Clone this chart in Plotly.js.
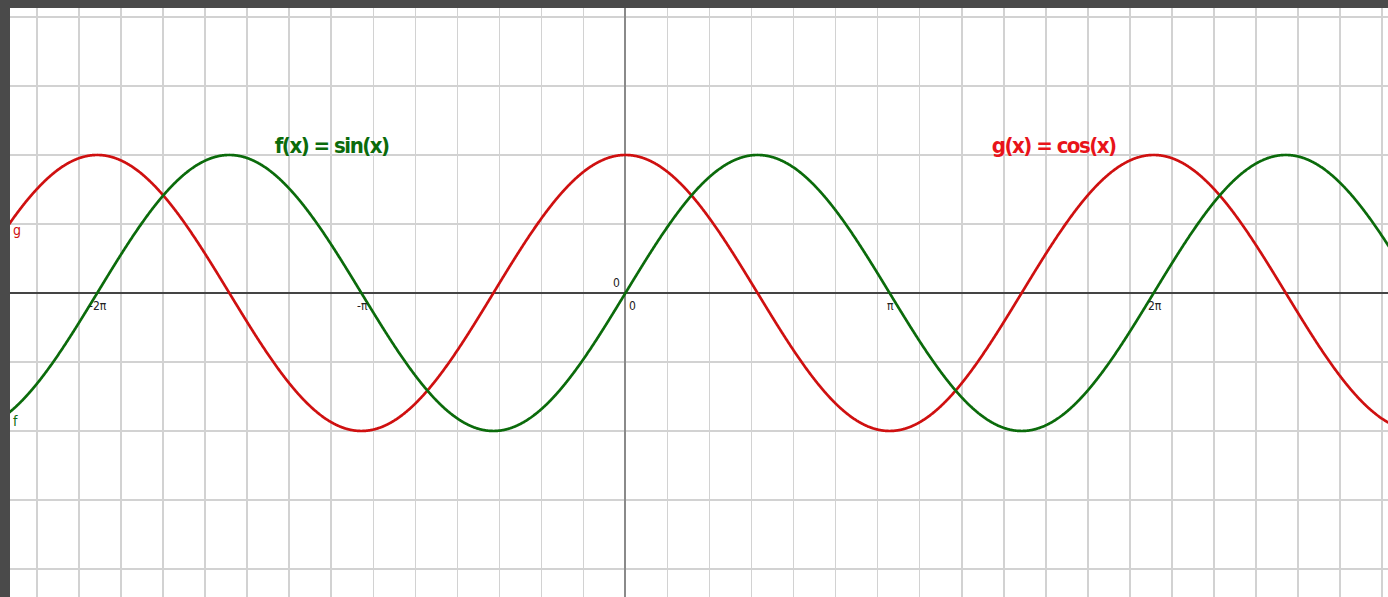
<!DOCTYPE html>
<html>
<head>
<meta charset="utf-8">
<script src="https://cdn.plot.ly/plotly-3.0.1.min.js"></script>
<style>
  html, body { margin: 0; padding: 0; background: #4a4a4a; }
  #plot { width: 1388px; height: 597px; }
  /* tighter spacing for the two function captions */
  #plot g.annotation[data-index="8"] text,
  #plot g.annotation[data-index="9"] text { letter-spacing: -1.5px; }
</style>
</head>
<body>
<div id="plot"></div>
<script>
// Sample points along x for the two function graphs
const xSamples = [];
for (let i = 0; i <= 2000; i++) xSamples.push(-7.4 + i * (16.6 / 2000));

// Function values for f(x) = sin(x) and g(x) = cos(x)
const fValues = xSamples.map(Math.sin);
const gValues = xSamples.map(Math.cos);

// Axis labels at multiples of pi
const tickPositions = [-2 * Math.PI, -Math.PI, Math.PI, 2 * Math.PI];
const tickLabels = ['-2π', '-π', 'π', '2π'];

const greenLine = '#0b6b0b';
const redLine = '#cf1010';
const narrow = 'DejaVu Sans Condensed, Liberation Sans Narrow, sans-serif';

const traces = [
  { x: xSamples, y: gValues, mode: 'lines', name: 'g',
    line: { color: redLine, width: 2.7, shape: 'spline' }, hoverinfo: 'skip' },
  { x: xSamples, y: fValues, mode: 'lines', name: 'f',
    line: { color: greenLine, width: 2.7, shape: 'spline' }, hoverinfo: 'skip' }
];

const annotations = tickLabels.map((t, i) => ({
  x: tickPositions[i], y: 0, xref: 'x', yref: 'y',
  text: t, showarrow: false, xanchor: 'center', yanchor: 'top',
  xshift: 1, yshift: -4,
  font: { family: narrow, size: 12, color: '#222' }
}));

annotations.push(
  { x: 0, y: 0, xref: 'x', yref: 'y', text: '0', showarrow: false,
    xanchor: 'left', yanchor: 'top', xshift: 2, yshift: -4,
    font: { family: narrow, size: 12, color: '#222' } },
  { x: 0, y: 0, xref: 'x', yref: 'y', text: '0', showarrow: false,
    xanchor: 'right', yanchor: 'bottom', xshift: -3, yshift: 1,
    font: { family: narrow, size: 12, color: '#222' } },
  { x: -7.3, y: Math.cos(-7.3), xref: 'x', yref: 'y', text: 'g', showarrow: false,
    xanchor: 'left', yanchor: 'top', xshift: -1, yshift: 0,
    font: { family: narrow, size: 14, color: redLine } },
  { x: -7.3, y: Math.sin(-7.3), xref: 'x', yref: 'y', text: 'f', showarrow: false,
    xanchor: 'left', yanchor: 'top', xshift: -1, yshift: -1,
    font: { family: narrow, size: 14, color: greenLine } },
  { x: -3.50, y: 1.0, xref: 'x', yref: 'y', text: '<b>f(x) = sin(x)</b>', showarrow: false,
    xanchor: 'center', yanchor: 'bottom', yshift: -5,
    font: { family: narrow, size: 22, color: greenLine } },
  { x: 5.09, y: 1.0, xref: 'x', yref: 'y', text: '<b>g(x) = cos(x)</b>', showarrow: false,
    xanchor: 'center', yanchor: 'bottom', yshift: -5,
    font: { family: narrow, size: 22, color: '#e8141a' } }
);

const layout = {
  width: 1388, height: 597,
  margin: { l: 10, r: 0, t: 8, b: 0, pad: 0 },
  paper_bgcolor: '#4a4a4a',
  plot_bgcolor: '#ffffff',
  showlegend: false,
  xaxis: {
    range: [-7.321, 9.07], dtick: 0.5, tick0: 0,
    showgrid: true, gridcolor: '#d2d2d2', gridwidth: 1.5,
    zeroline: true, zerolinecolor: '#8a8a8a', zerolinewidth: 2,
    showticklabels: false, ticks: '', fixedrange: true
  },
  yaxis: {
    range: [-2.203, 2.065], dtick: 0.5, tick0: 0,
    showgrid: true, gridcolor: '#d2d2d2', gridwidth: 1.5,
    zeroline: true, zerolinecolor: '#444444', zerolinewidth: 1.8,
    showticklabels: false, ticks: '', fixedrange: true
  },
  annotations: annotations
};

Plotly.newPlot('plot', traces, layout, { displayModeBar: false, staticPlot: true });
</script>
</body>
</html>
